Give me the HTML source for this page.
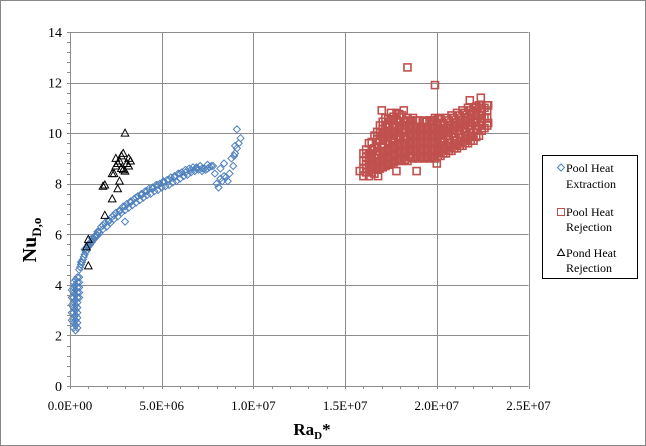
<!DOCTYPE html>
<html><head><meta charset="utf-8"><style>
html,body{margin:0;padding:0;background:#fff;}
svg{display:block;font-family:"Liberation Serif",serif;}
</style></head><body>
<svg id="chart" width="646" height="446" viewBox="0 0 646 446" xmlns="http://www.w3.org/2000/svg">
<rect x="0.5" y="0.5" width="645" height="445" fill="#fff" stroke="#888"/>
<g id="grid"></g>
<g id="marks"></g>
<g id="axes"></g>
<text transform="translate(36,240) rotate(-90)" text-anchor="middle" font-size="20" font-weight="bold">Nu<tspan font-size="13" dy="5">D,o</tspan></text>
<text x="312" y="435" text-anchor="middle" font-size="17" font-weight="bold">Ra<tspan font-size="11" dy="4">D</tspan><tspan dy="-4">*</tspan></text>
<g>
<rect x="542.5" y="155.5" width="95" height="123" fill="#fff" stroke="#000"/>
<g>
<path d="M561,164 l3.5,3.5 l-3.5,3.5 l-3.5,-3.5z" fill="none" stroke="#4f81bd"/>
<text x="566" y="172" font-size="12">Pool Heat</text><text x="566" y="188" font-size="12">Extraction</text></g>
<g>
<rect x="557.5" y="208.5" width="7" height="7" fill="none" stroke="#c0504d"/>
<text x="566" y="216" font-size="12">Pool Heat</text><text x="566" y="231" font-size="12">Rejection</text></g>
<g>
<path d="M561,249 l3.5,6.5 l-7,0z" fill="none" stroke="#000"/>
<text x="566" y="257" font-size="12">Pond Heat</text><text x="566" y="272" font-size="12">Rejection</text></g>
</g>
</svg>
<script>
// data (x in millions of Ra_D*, y = Nu)
const xTicks = [0, 5, 10, 15, 20, 25];
const xTickLabels = ["0.0E+00","5.0E+06","1.0E+07","1.5E+07","2.0E+07","2.5E+07"];
const yTicks = [0,2,4,6,8,10,12,14];
// low-Ra vertical cluster of pool extraction, by column
const blueLowColX = [0.1,0.2,0.3,0.4,0.5];
const blueLowColY = [
 [2.6,2.9,3.2,3.5,3.8],
 [2.3,2.5,2.7,2.9,3.1,3.3,3.5,3.7,3.9,4.1],
 [2.2,2.4,2.6,2.8,3.0,3.2,3.4,3.6,3.8,4.0,4.2],
 [2.3,2.5,2.7,2.9,3.1,3.3,3.5,3.7,3.9,4.1],
 [3.5,3.7,3.9,4.1,4.3]];
const blueX = [0.4,0.5,0.6,0.7,0.8,0.9,1.0,1.1,1.2,1.3,1.4,1.5,1.6,1.8,2.0,2.2,2.4,2.6,2.8,3.0,3.2,3.4,3.6,3.8,4.0,4.2,4.4,4.6,4.8,5.0,5.2,5.4,5.6,5.8,6.0,6.2,6.4,6.6,6.8,7.0,7.2,7.4,7.6,7.8,
 0.55,0.65,0.75,0.85,0.95,1.05,1.15,1.25,1.35,1.45,1.55,1.7,1.9,2.1,2.3,2.5,2.7,2.9,3.1,3.3,3.5,3.7,3.9,4.1,4.3,4.5,4.7,4.9,5.1,5.3,5.5,5.7,5.9,6.1,6.3,6.5,6.7,6.9,7.1,7.3,7.5,7.7,
 0.6,0.8,1.0,1.2,1.5,1.8,2.1,2.4,2.7,3.0,3.3,3.6,3.9,4.2,4.5,4.8,5.1,5.4,5.7,6.0,6.3,6.6,6.9,7.2,7.5,3.0,
 7.9,8.0,8.1,8.2,8.3,8.4,8.5,8.6,8.2,8.4,8.8,8.9,9.0,9.1,9.2,9.3,9.0,9.1,8.7,8.95];
const blueY = [4.3,4.6,4.8,5.0,5.2,5.35,5.5,5.6,5.7,5.8,5.9,5.95,6.05,6.2,6.3,6.45,6.6,6.7,6.85,6.95,7.05,7.15,7.25,7.35,7.45,7.55,7.6,7.7,7.75,7.85,7.9,7.95,8.05,8.1,8.2,8.3,8.35,8.45,8.5,8.55,8.6,8.55,8.65,8.7,
 4.7,4.9,5.1,5.3,5.5,5.6,5.7,5.8,5.9,6.0,6.1,6.3,6.45,6.55,6.7,6.85,6.95,7.1,7.2,7.3,7.4,7.5,7.6,7.7,7.8,7.85,7.95,8.0,8.1,8.15,8.25,8.3,8.4,8.45,8.55,8.6,8.65,8.6,8.7,8.6,8.75,8.7,
 4.9,5.4,5.6,5.85,6.1,6.35,6.5,6.75,6.9,7.1,7.25,7.45,7.55,7.7,7.8,7.95,8.05,8.15,8.25,8.4,8.45,8.55,8.65,8.5,8.6,6.5,
 8.4,8.0,7.85,8.2,8.1,8.3,8.25,8.1,8.6,8.8,9.0,8.7,9.2,9.4,9.6,9.8,9.5,10.15,8.4,9.1];
// pool rejection cluster, by column
const redColX = [16.0,16.15,16.3,16.45,16.6,16.75,16.9,17.05,17.2,17.35,17.5,17.65,17.8,17.95,18.1,18.25,18.4,18.55,18.7,18.85,19.0,19.15,19.3,19.45,19.6,19.75,19.9,20.05,20.2,20.35,20.5,20.65,20.8,20.95,21.1,21.25,21.4,21.55,21.7,21.85,22.0,22.15,22.3,22.45,22.6,22.75];
const redColY = [
 [8.3,8.6,8.9,9.2],
 [8.45,8.75,9.05,9.35],
 [8.3,8.6,8.9,9.2,9.6],
 [8.45,8.75,9.05,9.35,9.65],
 [8.4,8.7,9.0,9.4,9.9],
 [8.55,8.85,9.15,9.45,9.75,10.05],
 [8.6,8.9,9.3,9.7,10.0,10.3],
 [8.65,8.95,9.25,9.55,9.85,10.15,10.45],
 [8.7,9.0,9.3,9.7,10.0,10.3,10.6],
 [8.75,9.05,9.35,9.65,9.95,10.25,10.55],
 [8.8,9.1,9.4,9.8,10.1,10.5,10.8],
 [8.85,9.15,9.45,9.75,10.05,10.35,10.65],
 [8.9,9.2,9.5,9.9,10.2,10.5,10.8],
 [8.95,9.25,9.55,9.85,10.15,10.45,10.75],
 [8.9,9.3,9.6,10.0,10.3,10.7],
 [8.95,9.25,9.55,9.85,10.15,10.45],
 [8.9,9.3,9.6,9.9,10.3,10.6],
 [9.05,9.35,9.65,9.95,10.25,10.5],
 [9.0,9.3,9.6,9.9,10.3,10.6],
 [9.05,9.35,9.65,9.95,10.25,10.5],
 [9.0,9.3,9.6,9.9,10.2,10.5],
 [9.05,9.35,9.65,9.95,10.25],
 [9.0,9.3,9.6,9.9,10.2,10.5],
 [9.05,9.35,9.65,9.95,10.25,10.45],
 [9.0,9.3,9.6,9.9,10.2,10.5],
 [9.05,9.35,9.65,9.95,10.25,10.5],
 [9.0,9.3,9.6,9.9,10.2,10.6],
 [9.1,9.4,9.7,10.0,10.3,10.55],
 [9.1,9.4,9.7,10.0,10.3,10.6],
 [9.2,9.5,9.8,10.1,10.4],
 [9.2,9.5,9.9,10.2,10.6],
 [9.3,9.6,9.9,10.2,10.5],
 [9.3,9.6,10.0,10.3,10.7],
 [9.4,9.7,10.0,10.3,10.6],
 [9.4,9.7,10.1,10.4,10.8],
 [9.5,9.8,10.1,10.4,10.7],
 [9.5,9.8,10.2,10.5,10.9],
 [9.6,9.9,10.2,10.5,10.8],
 [9.6,9.9,10.3,10.6,11.0],
 [9.7,10.0,10.3,10.6,10.9],
 [9.7,10.0,10.4,10.7,11.0],
 [9.85,10.15,10.45,10.75,11.05],
 [9.9,10.3,10.7,11.1],
 [10.1,10.4,10.7,11.0],
 [10.2,10.6,11.0],
 [10.3,10.6,10.9,11.1]];
const redX = [15.8,22.8,22.8,18.4,19.9,16.4,17.8,18.9,20.0,18.2,21.8,22.4,17.0,16.8];
const redY = [8.5,10.4,11.1,12.6,11.9,8.6,8.5,8.5,8.8,10.9,11.3,11.4,10.9,8.3];
const pondX = [1.0,0.9,1.0,1.9,1.8,1.9,2.3,2.6,2.7,2.3,2.4,2.5,2.6,2.7,2.8,2.9,3.0,2.9,3.1,3.2,3.3,3.2,3.0,2.5,2.8];
const pondY = [4.75,5.5,5.8,6.75,7.9,7.95,7.4,7.8,8.1,8.4,8.4,8.7,8.8,8.9,9.1,9.2,8.5,8.55,8.8,9.0,8.9,8.7,10.0,9.0,8.6];

const X0=70, X1=528.5, Y0=386, Y1=32, XMAX=25, YMAX=14;
const sx = v => X0 + v/XMAX*(X1-X0);
const sy = v => Y0 - v/YMAX*(Y0-Y1);
const NS="http://www.w3.org/2000/svg";
function mk(tag, attrs, parent){const e=document.createElementNS(NS,tag);for(const k in attrs)e.setAttribute(k,attrs[k]);parent.appendChild(e);return e;}
const grid=document.getElementById('grid'), marks=document.getElementById('marks'), axes=document.getElementById('axes');
yTicks.forEach(t=>{
  const l=mk('line',{x1:X0,x2:X1,y1:Math.round(sy(t))+0.5,y2:Math.round(sy(t))+0.5,stroke:'#8c8c8c'},grid);
  
  
  const tx=mk('text',{x:X0-8,y:sy(t)+5,'text-anchor':'end','font-size':'14'},axes);
  tx.textContent=t;
  
  
});
xTicks.forEach((t,i)=>{
  const l=mk('line',{x1:Math.round(sx(t))+0.5,x2:Math.round(sx(t))+0.5,y1:Y1,y2:Y0,stroke:'#8c8c8c'},grid);
  
  
  const tx=mk('text',{x:sx(t),y:410,'text-anchor':'middle','font-size':'13'},axes);
  tx.textContent=xTickLabels[i];
  
  
});
for(let v=0; v<=YMAX+0.001; v+=0.4){
  const y=Math.round(sy(v))+0.5;
  const l=mk('line',{x1:X0-3,x2:X0,y1:y,y2:y,stroke:'#8c8c8c'},axes);
  
  
}
for(let v=0; v<=XMAX; v+=1){
  const x=Math.round(sx(v))+0.5;
  const l=mk('line',{x1:x,x2:x,y1:Y0,y2:Y0+3,stroke:'#8c8c8c'},axes);
  
  
}
function diamond(v,w){
  const x=sx(v), y=sy(w);
  const p=mk('path',{d:`M${x},${y-3.5} l3.5,3.5 l-3.5,3.5 l-3.5,-3.5z`,fill:'none',stroke:'#4f81bd','stroke-width':'1'},marks);
  
  
}
function square(v,w){
  const x=sx(v), y=sy(w);
  const r=mk('rect',{x:x-3.5,y:y-3.5,width:7,height:7,fill:'none',stroke:'#c0504d','stroke-width':'1.6'},marks);
  
  
}
blueLowColX.forEach((v,i)=>blueLowColY[i].forEach(w=>diamond(v,w)));
blueX.forEach((v,i)=>diamond(v,blueY[i]));
redColX.forEach((v,i)=>redColY[i].forEach(w=>square(v,w)));
redX.forEach((v,i)=>square(v,redY[i]));
pondX.forEach((v,i)=>{
  const x=sx(v), y=sy(pondY[i]);
  const p=mk('path',{d:`M${x},${y-4} l3.8,7 l-7.6,0z`,fill:'none',stroke:'#000','stroke-width':'1'},marks);
  
  
});
const ax=mk('line',{x1:X0+0.5,x2:X0+0.5,y1:Y1,y2:Y0,stroke:'#8c8c8c'},axes);


</script>
</body></html>
